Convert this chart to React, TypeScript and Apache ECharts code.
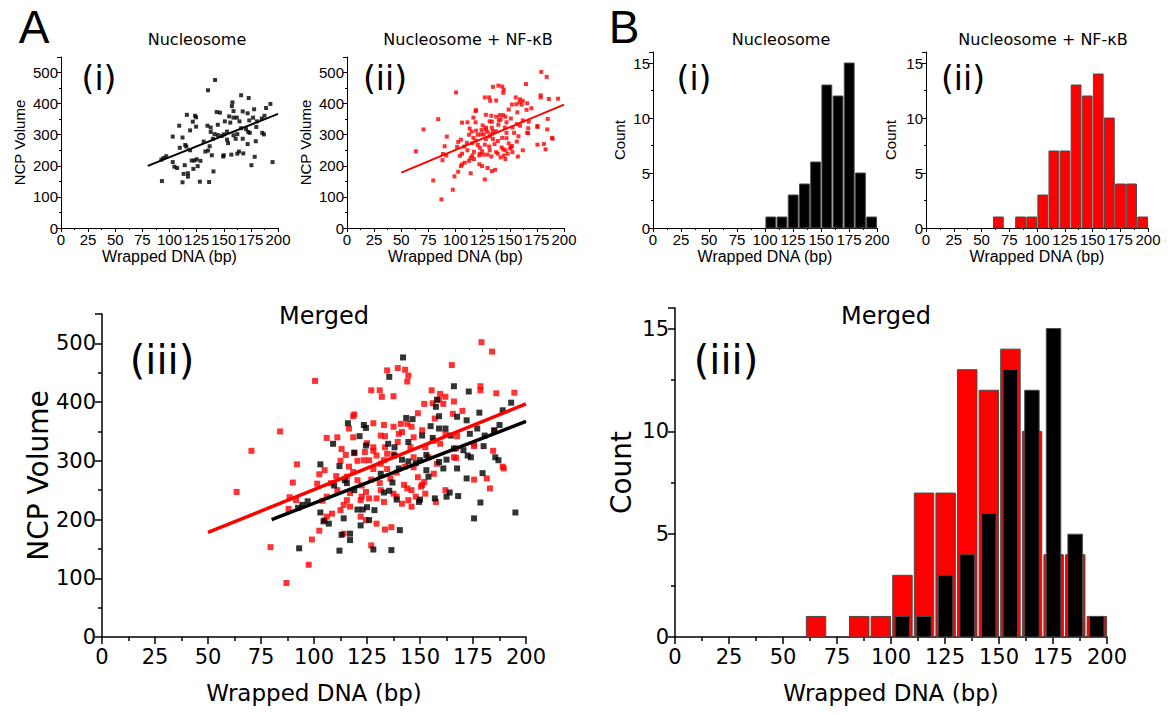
import React, { useEffect, useRef } from 'react';
import * as echarts from 'echarts';

// ---------- data ----------
const xTickValues = [0, 25, 50, 75, 100, 125, 150, 175, 200];

// Nucleosome: (wrapped DNA bp, NCP volume)
const nucPoints: [number, number][] = [
  [142, 476], [135.5, 443], [166, 427], [173, 418], [158, 404], [157.5, 392], [193, 399], [189, 386],
  [178, 382], [143.5, 373], [146.5, 371], [159, 376], [167.5, 375], [172, 369], [155, 359], [159, 355],
  [162, 355], [177, 355], [187.5, 361], [185, 352], [180.5, 343], [173.5, 346], [124.5, 356], [121.5, 342],
  [109, 329], [124.5, 326], [135, 329], [138, 323], [144.5, 332], [151, 343], [156, 339], [164.5, 343],
  [166, 321], [170.5, 318], [180, 325], [172.5, 309], [174, 306], [185.5, 306], [187, 301], [179.5, 279],
  [172, 270], [167.5, 287], [162.5, 302], [159, 298], [153, 310], [150, 301], [148, 296], [153, 284],
  [154, 273], [161, 287], [140, 287], [138, 309], [141.5, 302], [144.5, 299], [119, 314], [103, 294],
  [112, 291], [114.5, 267], [115.5, 262], [109.5, 258], [119, 250], [131.5, 278], [137, 263], [133, 246],
  [135.5, 249], [139, 234], [149.5, 230], [150, 234], [157, 236], [162.5, 239], [164, 246], [168, 240],
  [178.5, 229], [175.5, 202], [195, 212], [97, 231], [94.5, 225], [92.5, 220], [103, 212], [104.5, 197],
  [107, 193], [114, 202], [120.5, 217], [123, 217], [125, 221], [128.5, 216], [122, 190], [113, 174],
  [117, 176], [117, 165], [112, 147], [93, 151], [128, 149], [136.5, 148], [140.5, 182], [126, 199],
  [116, 364], [123.5, 361]
];

// Nucleosome + NF-kB
const nfkbPoints: [number, number][] = [
  [179, 502], [184, 486], [165, 463], [100.5, 436], [134.5, 454], [139.5, 458], [143, 455], [144.5, 445],
  [144, 435], [127, 420], [131, 420], [132, 409], [137.5, 410], [155.5, 420], [159.5, 414], [162, 409],
  [166, 401], [178.5, 427], [178.5, 420], [186, 415], [194.5, 416], [84, 350], [70.5, 317], [63.5, 247],
  [92, 294], [90, 263], [88.5, 238], [88, 218], [79.5, 153], [97.5, 123], [87, 92], [99, 166],
  [102.5, 181], [105, 199], [106, 339], [111, 340], [118.5, 376], [119, 379], [118.5, 340], [128, 364],
  [131.5, 343], [133.5, 342], [140, 346], [141, 363], [144, 363], [146, 358], [149, 381], [152, 397],
  [156, 398], [159, 404], [161, 397], [165.5, 380], [175.5, 325], [184.5, 317], [189.5, 287], [183, 253],
  [175.5, 268], [181.5, 270], [102.5, 277], [105, 284], [101.5, 261], [110.5, 274], [112.5, 300], [115, 310],
  [116.5, 290], [118.5, 281], [120.5, 300], [124, 315], [126, 301], [128, 317], [129.5, 309], [131.5, 295],
  [133, 301], [134.5, 312], [137.5, 311], [139.5, 332], [141.5, 349], [147, 340], [151, 352], [152.5, 323],
  [156.5, 334], [159.5, 329], [162, 346], [158, 295], [166, 306], [156.5, 278], [152, 264], [150.5, 256],
  [152.5, 244], [157.5, 230], [162, 250], [91.5, 233], [106, 239], [108.5, 210], [106, 205], [112.5, 216],
  [114, 225], [115.5, 233], [117, 245], [122, 233], [122.5, 239], [124.5, 247], [126, 236], [129.5, 236],
  [131.5, 250], [133, 230], [137.5, 244], [139, 239], [141.5, 227], [144.5, 233], [146, 222], [148, 239],
  [151, 259], [122, 205], [124.5, 199], [129.5, 193], [133.5, 183], [136.5, 187], [127, 156], [114, 176],
  [119, 313], [115.5, 273], [120.5, 267], [122.5, 258], [128, 286], [134.5, 286], [139, 280], [142.5, 259],
  [144, 253], [147, 289], [154, 306], [147, 306], [145.5, 323], [133.5, 323], [128, 323], [123.5, 301],
  [137.5, 358], [133, 361], [116.5, 355], [167, 321], [167, 305], [175.5, 328], [185, 351], [189, 290],
  [167.5, 342], [108, 262], [111, 250], [127, 268], [136, 270], [143, 290], [149, 272], [104, 232],
  [117, 222], [131, 262], [146, 250], [125, 330], [113, 320], [157, 372], [170, 385]
];

// linear fits (end points)
const nucFit: [number, number][] = [[80, 200], [200, 367]];
const nfkbFit: [number, number][] = [[50, 178], [200, 397]];

// histograms: bin start (bin width 10 bp) and counts
const binStarts = [60, 70, 80, 90, 100, 110, 120, 130, 140, 150, 160, 170, 180, 190];
const nucCounts = [0, 0, 0, 0, 1, 1, 3, 4, 6, 13, 12, 15, 5, 1];
const nfkbCounts = [1, 0, 1, 1, 3, 7, 7, 13, 12, 14, 10, 4, 4, 1];

const RED = '#ff0000';
const BLACK = '#000000';
const SANS = 'Liberation Sans, Arial, sans-serif';
const DJ = 'DejaVu Sans, sans-serif';

const histData = (counts: number[]) => binStarts.map((b, i) => [b, counts[i]]);

function barRenderer(offL: number, offR: number, color: string) {
  return (params: any, api: any) => {
    const x0 = api.value(0);
    const c = api.value(1);
    if (!c) return null;
    const p1 = api.coord([x0 + offL, c]);
    const p2 = api.coord([x0 + offR, 0]);
    return {
      type: 'rect',
      shape: { x: p1[0], y: p1[1], width: p2[0] - p1[0], height: p2[1] - p1[1] },
      style: { fill: color, stroke: '#4a4a4a', lineWidth: 1 },
    };
  };
}

function xAxisCfg(gi: number, fs: number, fam: string, nameFs: number, nameGap: number, big: boolean) {
  return {
    type: 'value', gridIndex: gi, min: xTickValues[0], max: xTickValues[xTickValues.length - 1], interval: 25,
    name: 'Wrapped DNA (bp)', nameLocation: 'middle', nameGap,
    nameTextStyle: { fontSize: nameFs, fontFamily: fam, color: '#000' },
    axisLine: { show: true, onZero: false, lineStyle: { color: '#000', width: big ? 1.5 : 1 } },
    axisTick: { show: true, inside: false, length: big ? 7 : 4, lineStyle: { color: '#000', width: big ? 1.5 : 1 } },
    minorTick: { show: true, splitNumber: 2, length: big ? 4 : 2, lineStyle: { color: '#000', width: big ? 1.5 : 1 } },
    axisLabel: { fontSize: fs, fontFamily: fam, color: '#000', margin: big ? 9 : 4, hideOverlap: false, interval: 0 },
    splitLine: { show: false },
  };
}

function yAxisCfg(gi: number, max: number, interval: number, name: string, fs: number, fam: string, nameFs: number, nameGap: number, big: boolean) {
  return {
    type: 'value', gridIndex: gi, min: 0, max, interval,
    name, nameLocation: 'middle', nameGap,
    nameTextStyle: { fontSize: nameFs, fontFamily: fam, color: '#000' },
    axisLine: { show: true, onZero: false, lineStyle: { color: '#000', width: big ? 1.5 : 1 } },
    axisTick: { show: true, inside: false, length: big ? 7 : 4, lineStyle: { color: '#000', width: big ? 1.5 : 1 } },
    minorTick: { show: true, splitNumber: 2, length: big ? 4 : 2, lineStyle: { color: '#000', width: big ? 1.5 : 1 } },
    axisLabel: { fontSize: fs, fontFamily: fam, color: '#000', margin: big ? 6 : 3, showMaxLabel: false },
    splitLine: { show: false },
  };
}

function txt(text: string, x: number, y: number, size: number, fam: string, align = 'center', vAlign = 'middle') {
  return {
    type: 'text', x, y, silent: true,
    style: { text, fontSize: size, fontFamily: fam, fill: '#000', align, verticalAlign: vAlign },
  };
}

export default function App() {
  const ref = useRef<HTMLDivElement>(null);
  useEffect(() => {
    if (!ref.current) return;
    const chart = echarts.init(ref.current, undefined, { renderer: 'svg' });
    const grids = [
      { left: 61, top: 57, width: 217, height: 171 },
      { left: 347, top: 57, width: 217, height: 171 },
      { left: 653, top: 52, width: 224, height: 176 },
      { left: 926, top: 52, width: 222, height: 176 },
      { left: 102, top: 314, width: 424, height: 323 },
      { left: 675, top: 308, width: 432, height: 329 },
    ];
    const option: any = {
      animation: false,
      backgroundColor: '#fff',
      grid: grids.map((g) => ({ ...g, containLabel: false })),
      xAxis: [
        xAxisCfg(0, 15, SANS, 16, 20, false),
        xAxisCfg(1, 15, SANS, 16, 20, false),
        xAxisCfg(2, 15, SANS, 16, 20, false),
        xAxisCfg(3, 15, SANS, 16, 20, false),
        xAxisCfg(4, 21, DJ, 23, 44, true),
        xAxisCfg(5, 21, DJ, 23, 44, true),
      ],
      yAxis: [
        yAxisCfg(0, 550, 100, 'NCP Volume', 15, SANS, 15, 34, false),
        yAxisCfg(1, 550, 100, 'NCP Volume', 15, SANS, 15, 34, false),
        yAxisCfg(2, 16, 5, 'Count', 15, SANS, 15, 26, false),
        yAxisCfg(3, 16, 5, 'Count', 15, SANS, 15, 28, false),
        yAxisCfg(4, 550, 100, 'NCP Volume', 21, DJ, 28, 50, true),
        yAxisCfg(5, 16, 5, 'Count', 21, DJ, 28, 40, true),
      ],
      series: [
        { type: 'scatter', xAxisIndex: 0, yAxisIndex: 0, data: nucPoints, symbol: 'rect', symbolSize: 4, itemStyle: { color: BLACK } },
        { type: 'line', xAxisIndex: 0, yAxisIndex: 0, data: nucFit, showSymbol: false, lineStyle: { color: BLACK, width: 2 } },
        { type: 'scatter', xAxisIndex: 1, yAxisIndex: 1, data: nfkbPoints, symbol: 'rect', symbolSize: 4, itemStyle: { color: RED } },
        { type: 'line', xAxisIndex: 1, yAxisIndex: 1, data: nfkbFit, showSymbol: false, lineStyle: { color: RED, width: 2 } },
        { type: 'custom', xAxisIndex: 2, yAxisIndex: 2, data: histData(nucCounts), renderItem: barRenderer(0.8, 9.6, BLACK), encode: { x: 0, y: 1 } },
        { type: 'custom', xAxisIndex: 3, yAxisIndex: 3, data: histData(nfkbCounts), renderItem: barRenderer(0.8, 9.6, RED), encode: { x: 0, y: 1 } },
        { type: 'scatter', xAxisIndex: 4, yAxisIndex: 4, data: nfkbPoints, symbol: 'rect', symbolSize: 6, itemStyle: { color: RED } },
        { type: 'scatter', xAxisIndex: 4, yAxisIndex: 4, data: nucPoints, symbol: 'rect', symbolSize: 6, itemStyle: { color: BLACK } },
        { type: 'line', xAxisIndex: 4, yAxisIndex: 4, data: nfkbFit, showSymbol: false, lineStyle: { color: RED, width: 3.5 } },
        { type: 'line', xAxisIndex: 4, yAxisIndex: 4, data: nucFit, showSymbol: false, lineStyle: { color: BLACK, width: 3.5 } },
        { type: 'custom', xAxisIndex: 5, yAxisIndex: 5, data: histData(nfkbCounts), renderItem: barRenderer(0.8, 9.8, RED), encode: { x: 0, y: 1 } },
        { type: 'custom', xAxisIndex: 5, yAxisIndex: 5, data: histData(nucCounts), renderItem: barRenderer(1.9, 8.6, BLACK), encode: { x: 0, y: 1 } },
      ],
      graphic: [
        txt('A', 34, 27, 46, SANS),
        txt('B', 624, 27, 46, SANS),
        txt('Nucleosome', 197, 39, 16, DJ),
        txt('Nucleosome + NF-κB', 468, 39, 16, DJ),
        txt('Nucleosome', 781, 39, 16, DJ),
        txt('Nucleosome + NF-κB', 1043, 39, 16, DJ),
        txt('(i)', 99, 78, 33, DJ),
        txt('(ii)', 385, 78, 33, DJ),
        txt('(i)', 694, 78, 33, DJ),
        txt('(ii)', 963, 78, 33, DJ),
        txt('Merged', 324, 316, 24, DJ),
        txt('Merged', 886, 316, 24, DJ),
        txt('(iii)', 162, 360, 40, DJ),
        txt('(iii)', 726, 360, 40, DJ),
      ],
    };
    chart.setOption(option);
    return () => chart.dispose();
  }, []);
  return <div ref={ref} style={{ position: 'absolute', left: 0, top: 0, width: 1172, height: 715, background: '#fff' }} />;
}
